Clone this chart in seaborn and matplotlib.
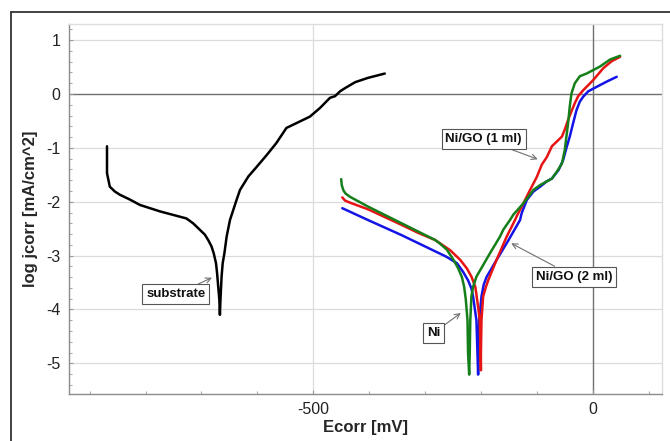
import matplotlib
matplotlib.use("Agg")
import matplotlib.pyplot as plt
from matplotlib.lines import Line2D
from matplotlib.ticker import MultipleLocator
import seaborn as sns
import pandas as pd

# ---- data ----
substrate_E = [-869, -869, -864, -855, -846, -828, -810, -774, -727, -715, -703, -694, -688, -682,
               -678, -674, -672, -670, -668, -667, -666, -664, -662, -659, -655, -649, -643, -637,
               -631, -616, -601, -583, -566, -548, -530, -506, -488, -470, -461, -452, -443, -425,
               -402, -372]
substrate_j = [-0.97, -1.47, -1.72, -1.81, -1.87, -1.96, -2.06, -2.18, -2.31, -2.40, -2.52, -2.61, -2.71, -2.83,
               -2.96, -3.14, -3.33, -3.58, -3.82, -4.10, -3.82, -3.39, -3.14, -2.96, -2.65, -2.34, -2.15, -1.96,
               -1.78, -1.53, -1.35, -1.13, -0.91, -0.63, -0.54, -0.42, -0.26, -0.07, -0.04, 0.05, 0.11, 0.22,
               0.30, 0.38]

ni_E = [-450, -449, -446, -442, -434, -402, -342, -282, -273, -261, -249, -241, -234, -230, -227, -224, -223, -221,
        -220, -219, -217, -214, -208, -199, -184, -166, -160, -148, -142, -124, -106, -94, -73, -64, -55, -50,
        -47, -44, -41, -38, -32, -23, -11, 13, 31, 49]
ni_j = [-1.58, -1.69, -1.79, -1.85, -1.91, -2.09, -2.40, -2.71, -2.78, -2.89, -3.08, -3.23, -3.40, -3.58, -3.82, -4.20, -4.81, -5.21,
        -4.81, -4.20, -3.76, -3.58, -3.39, -3.23, -2.96, -2.65, -2.52, -2.34, -2.24, -2.03, -1.78, -1.69, -1.57, -1.44, -1.29, -1.04,
        -0.79, -0.54, -0.23, 0.01, 0.20, 0.33, 0.38, 0.51, 0.64, 0.71]

nigo1_E = [-448, -443, -431, -402, -342, -312, -282, -255, -249, -237, -225, -217, -210, -205, -202, -200,
           -200, -199, -196, -191, -187, -172, -154, -139, -136, -124, -112, -100, -91, -82, -73, -64, -55,
           -50, -44, -38, -32, -26, -17, 1, 19, 34, 49]
nigo1_j = [-1.92, -1.98, -2.03, -2.14, -2.43, -2.58, -2.71, -2.90, -2.96, -3.08, -3.24, -3.39, -3.58, -3.95, -4.20, -5.13,
           -4.81, -4.20, -3.76, -3.58, -3.46, -3.08, -2.65, -2.34, -2.27, -2.03, -1.78, -1.54, -1.31, -1.17, -0.97, -0.88, -0.79,
           -0.66, -0.48, -0.32, -0.17, -0.04, 0.07, 0.26, 0.48, 0.61, 0.69]

nigo2_E = [-448, -402, -342, -312, -280, -262, -243, -232, -223, -217, -214, -208, -205,
           -204, -203, -199, -195, -190, -172, -151, -130, -127, -118, -106, -94, -82, -73, -61, -53,
           -47, -41, -35, -29, -23, -17, -8, 1, 25, 43]
nigo2_j = [-2.12, -2.34, -2.62, -2.77, -2.93, -3.02, -3.14, -3.30, -3.46, -3.61, -3.76, -4.20, -5.21,
           -4.81, -4.20, -3.76, -3.54, -3.40, -3.08, -2.72, -2.34, -2.21, -1.97, -1.81, -1.72, -1.62, -1.57, -1.41, -1.23,
           -1.00, -0.79, -0.54, -0.30, -0.14, -0.05, 0.05, 0.10, 0.23, 0.32]

series_names = ["substrate", "Ni/GO (2 ml)", "Ni/GO (1 ml)", "Ni"]
series_colors = ["#000000", "#1414e6", "#e61414", "#15801a"]
x_ticks = [-500, 0]
y_ticks = [-5, -4, -3, -2, -1, 0, 1]

rows = []
for name, E, j in [("substrate", substrate_E, substrate_j),
                   ("Ni/GO (2 ml)", nigo2_E, nigo2_j),
                   ("Ni/GO (1 ml)", nigo1_E, nigo1_j),
                   ("Ni", ni_E, ni_j)]:
    for k, (e, v) in enumerate(zip(E, j)):
        rows.append({"series": name, "order": k, "E": e, "logj": v})
df = pd.DataFrame(rows)

# ---- figure ----
sns.set_theme(style="white")
plt.rcParams["font.family"] = ["Liberation Sans", "DejaVu Sans"]
plt.rcParams["axes.unicode_minus"] = False

fig = plt.figure(figsize=(6.70, 4.41), dpi=100)
ax = fig.add_axes([69 / 670, 1 - 394 / 441, (662 - 69) / 670, (394 - 24) / 441])

ax.set_xlim(-937, 124)
ax.set_ylim(-5.57, 1.30)

# grid + zero lines
for xv in x_ticks:
    if xv != 0:
        ax.axvline(xv, color="#dcdcdc", lw=0.9, zorder=0)
for yv in y_ticks:
    if yv != 0:
        ax.axhline(yv, color="#dcdcdc", lw=0.9, zorder=0)
ax.axvline(0, color="#707070", lw=1.0, zorder=0.5)
ax.axhline(0, color="#707070", lw=1.0, zorder=0.5)

sns.lineplot(data=df, x="E", y="logj", hue="series", hue_order=series_names,
             palette=dict(zip(series_names, series_colors)), sort=False, estimator=None,
             units="series", lw=1.8, legend=False, ax=ax)
for ln in ax.get_lines():
    ln.set_solid_joinstyle("round")

ax.set_xticks(x_ticks)
ax.set_yticks(y_ticks)
ax.xaxis.set_minor_locator(MultipleLocator(100))
ax.yaxis.set_minor_locator(MultipleLocator(0.2))
ax.tick_params(axis="both", which="major", labelsize=11.5, labelcolor="#222222",
               length=3, width=0.8, color="#999999", direction="in", pad=6)
ax.tick_params(axis="both", which="minor", length=2, width=0.8, color="#aaaaaa", direction="in")
ax.tick_params(axis="x", which="both", bottom=True)
ax.tick_params(axis="y", which="both", left=True)

for s in ["left", "bottom"]:
    ax.spines[s].set_color("#8c8c8c")
    ax.spines[s].set_linewidth(1.0)
for s in ["top", "right"]:
    ax.spines[s].set_color("#dddddd")
    ax.spines[s].set_linewidth(1.0)

ax.set_xlabel("Ecorr [mV]", fontsize=12, fontweight="bold", labelpad=2)
ax.set_ylabel("log jcorr [mA/cm^2]", fontsize=12, fontweight="bold", labelpad=6)

box = dict(boxstyle="square,pad=0.3", fc="white", ec="#555555", lw=0.8)
arrow = dict(arrowstyle="->", color="#707070", lw=0.8, shrinkA=0, shrinkB=1)
annots = [("substrate", (-679, -3.40), (-746, -3.72)),
          ("Ni", (-234, -4.05), (-285, -4.44)),
          ("Ni/GO (2 ml)", (-148, -2.76), (-33, -3.39)),
          ("Ni/GO (1 ml)", (-96, -1.22), (-195, -0.84))]
for label, tip, pos in annots:
    ax.annotate(label, xy=tip, xytext=pos, ha="center", va="center",
                fontsize=9.5, fontweight="bold", color="#111111",
                bbox=box, arrowprops=arrow, zorder=5)

# outer frame (partial, as in the reference crop)
fig.add_artist(Line2D([11 / 670, 1.0], [1 - 12 / 441, 1 - 12 / 441], color="#333333", lw=1.3,
                      transform=fig.transFigure))
fig.add_artist(Line2D([11 / 670, 11 / 670], [0.0, 1 - 12 / 441], color="#333333", lw=1.3,
                      transform=fig.transFigure))

fig.savefig("out.png", dpi=100)
